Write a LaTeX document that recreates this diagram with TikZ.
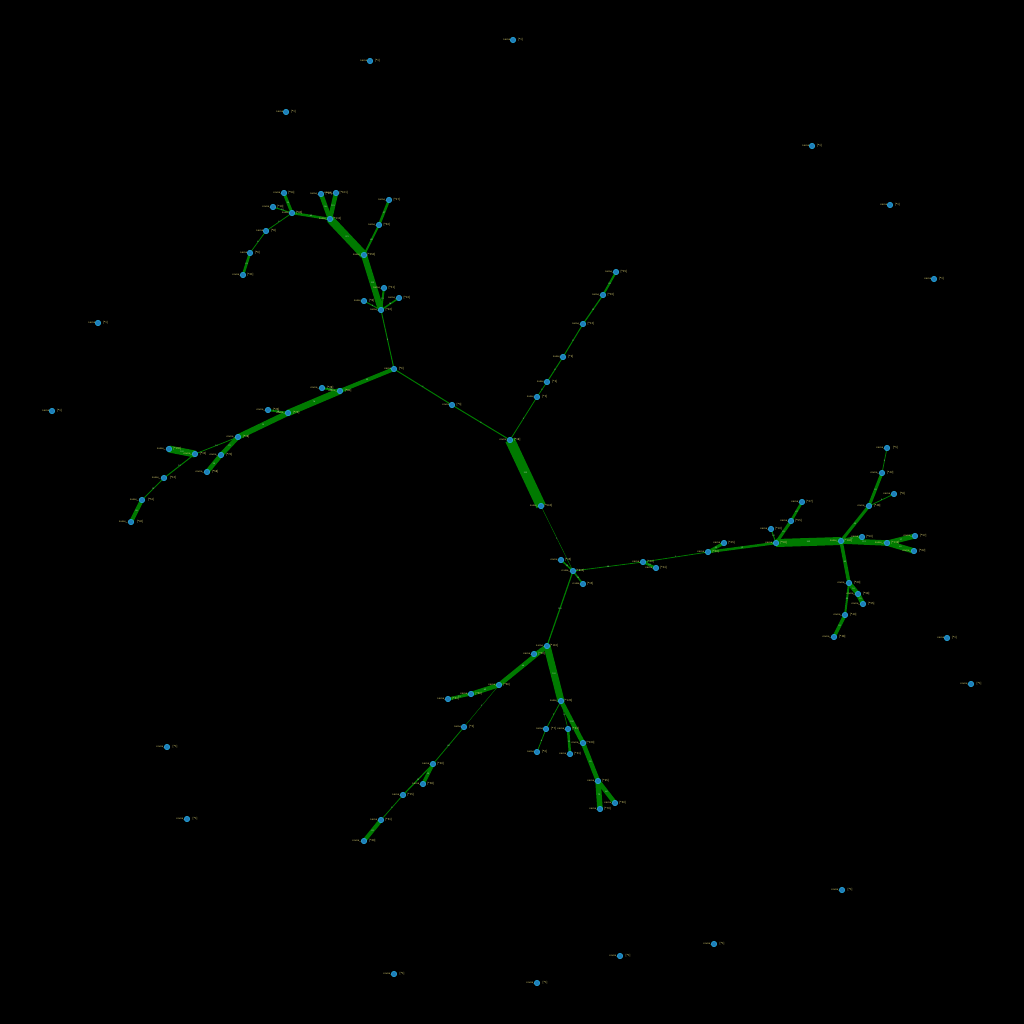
\documentclass[tikz,border=0pt]{standalone}
\usetikzlibrary{backgrounds}
\definecolor{edgegreen}{RGB}{0,122,0}
\definecolor{nodeblue}{RGB}{30,125,185}
\definecolor{noderim}{RGB}{40,175,225}
\definecolor{lbltext}{RGB}{210,200,110}
\definecolor{elbltext}{RGB}{175,210,170}
\pgfdeclarelayer{back}
\pgfdeclarelayer{edges}
\pgfsetlayers{back,edges,main}
\tikzset{
  nd/.style={circle, fill=nodeblue, draw=noderim, line width=0.5pt, inner sep=0pt, minimum size=5.5pt},
  lbl/.style={text=lbltext, inner sep=0pt, font=\sffamily\fontsize{2.9}{3.2}\selectfont},
  edge/.style={draw=edgegreen, line cap=butt},
  elbl/.style={text=elbltext, inner sep=0pt, font=\sffamily\fontsize{2.2}{2.5}\selectfont, midway}
}
\newcommand\NN[4]{\node[lbl] at (#2,#3) {name\_#1\;\;\; [*#4]}; \node[nd] (#1) at (#2,#3) {};}
\newcommand\EE[4]{\draw[edge, line width=#3pt] (#1.center) -- (#2.center) node[elbl] {#4};}
\begin{document}
\begin{tikzpicture}[x=1pt,y=-1pt]
\useasboundingbox (0,0) rectangle (1024,1024);
\begin{pgfonlayer}{back}
\fill[black] (0,0) rectangle (1024,1024);
\end{pgfonlayer}
% isolated nodes
\NN{i1}{513}{40}{1}
\NN{i2}{370}{61}{1}
\NN{i3}{286}{112}{1}
\NN{i4}{812}{146}{1}
\NN{i5}{890}{205}{1}
\NN{i6}{934}{279}{1}
\NN{i7}{98}{323}{1}
\NN{i8}{52}{411}{1}
\NN{i9}{947}{638}{1}
\NN{i10}{971}{684}{1}
\NN{i11}{167}{747}{1}
\NN{i12}{187}{819}{1}
\NN{i13}{842}{890}{1}
\NN{i14}{714}{944}{1}
\NN{i15}{620}{956}{1}
\NN{i16}{394}{974}{1}
\NN{i17}{537}{983}{1}
% centre
\NN{A}{510}{440}{18}
\NN{B}{541}{506}{540}
\NN{C}{561}{560}{15}
\NN{D}{573}{571}{806}
\NN{E}{583}{584}{15}
\NN{u1}{537}{397}{2}
\NN{u2}{547}{382}{4}
\NN{u3}{563}{357}{9}
\NN{u4}{583}{324}{12}
\NN{u5}{603}{295}{20}
\NN{u6}{616}{272}{25}
\NN{F}{452}{405}{3}
\NN{G}{394}{369}{9}
% upper G branch
\NN{g1}{381}{310}{40}
\NN{g2}{384}{288}{31}
\NN{g3}{399}{298}{16}
\NN{g4}{364}{301}{8}
\NN{H}{364}{255}{350}
\NN{h1}{379}{225}{60}
\NN{h2}{389}{200}{47}
\NN{K}{330}{219}{111}
\NN{k1}{321}{194}{96}
\NN{k2}{336}{193}{101}
\NN{L}{292}{213}{60}
\NN{l1}{284}{193}{54}
\NN{l2}{273}{207}{10}
\NN{l3}{266}{231}{8}
\NN{l4}{250}{253}{6}
\NN{l5}{243}{275}{41}
% left G branch
\NN{m1}{340}{391}{80}
\NN{m2}{322}{388}{28}
\NN{m3}{288}{413}{76}
\NN{m4}{268}{410}{26}
\NN{m5}{238}{437}{18}
\NN{m6}{195}{454}{12}
\NN{m7}{169}{449}{130}
\NN{m8}{221}{455}{70}
\NN{m9}{207}{472}{58}
\NN{m10}{164}{478}{12}
\NN{m11}{142}{500}{51}
\NN{m12}{131}{522}{46}
% right branch
\NN{r1}{643}{562}{20}
\NN{r2}{656}{568}{34}
\NN{r3}{708}{552}{30}
\NN{r4}{724}{543}{45}
\NN{r5}{776}{543}{58}
\NN{r6}{771}{529}{10}
\NN{r7}{791}{521}{55}
\NN{r8}{802}{502}{47}
\NN{R}{841}{541}{140}
\NN{r9}{862}{537}{50}
\NN{r10}{887}{543}{119}
\NN{r11}{915}{536}{57}
\NN{r12}{914}{551}{62}
\NN{r13}{869}{506}{48}
\NN{r14}{894}{494}{8}
\NN{r15}{882}{473}{42}
\NN{r16}{887}{448}{5}
\NN{r17}{849}{583}{60}
\NN{r18}{858}{594}{58}
\NN{r19}{863}{604}{55}
\NN{r20}{845}{615}{40}
\NN{r21}{834}{637}{38}
% lower branch
\NN{S}{547}{646}{110}
\NN{s1}{534}{654}{30}
\NN{s2}{499}{685}{66}
\NN{s3}{471}{694}{60}
\NN{s4}{448}{699}{51}
\NN{s5}{464}{727}{3}
\NN{s6}{433}{764}{40}
\NN{s7}{423}{784}{38}
\NN{s8}{403}{795}{15}
\NN{s9}{381}{820}{51}
\NN{s10}{364}{841}{49}
\NN{T}{561}{701}{120}
\NN{t1}{546}{729}{7}
\NN{t2}{537}{752}{6}
\NN{t3}{568}{729}{33}
\NN{t4}{570}{754}{31}
\NN{t5}{583}{743}{100}
\NN{t6}{598}{781}{95}
\NN{t7}{615}{803}{60}
\NN{t8}{600}{809}{70}
\begin{pgfonlayer}{edges}
\EE{A}{B}{10}{535}
\EE{B}{D}{0.4}{1}
\EE{C}{D}{1.5}{15}
\EE{D}{E}{1.5}{15}
\EE{A}{u1}{0.8}{2}
\EE{u1}{u2}{0.8}{2}
\EE{u2}{u3}{1}{4}
\EE{u3}{u4}{1}{9}
\EE{u4}{u5}{1.2}{12}
\EE{u5}{u6}{2}{20}
\EE{A}{F}{1}{3}
\EE{F}{G}{1}{3}
\EE{G}{g1}{1}{8}
\EE{g1}{H}{6}{350}
\EE{g1}{g2}{2}{31}
\EE{g1}{g3}{1.5}{16}
\EE{g1}{g4}{1}{8}
\EE{H}{K}{8}{278}
\EE{H}{h1}{2}{60}
\EE{h1}{h2}{2.5}{47}
\EE{K}{k1}{4.5}{96}
\EE{K}{k2}{4.5}{101}
\EE{K}{L}{2.5}{60}
\EE{L}{l1}{3}{54}
\EE{L}{l2}{1}{10}
\EE{L}{l3}{0.8}{8}
\EE{l3}{l4}{0.8}{6}
\EE{l4}{l5}{2.5}{41}
\EE{G}{m1}{4}{80}
\EE{m1}{m2}{2}{28}
\EE{m1}{m3}{6.5}{76}
\EE{m3}{m4}{2}{26}
\EE{m3}{m5}{5.5}{18}
\EE{m5}{m6}{0.8}{12}
\EE{m6}{m7}{7}{130}
\EE{m5}{m8}{4.5}{70}
\EE{m8}{m9}{4.5}{58}
\EE{m6}{m10}{1}{12}
\EE{m10}{m11}{1}{10}
\EE{m11}{m12}{4}{46}
\EE{D}{r1}{0.8}{20}
\EE{r1}{r2}{2.5}{34}
\EE{r1}{r3}{0.8}{3}
\EE{r3}{r4}{3}{45}
\EE{r3}{r5}{2.5}{30}
\EE{r5}{r6}{1}{10}
\EE{r5}{r7}{3}{55}
\EE{r7}{r8}{2.5}{47}
\EE{r5}{R}{8}{540}
\EE{R}{r9}{4}{50}
\EE{R}{r10}{5.5}{119}
\EE{r10}{r11}{5}{57}
\EE{r10}{r12}{5.5}{62}
\EE{R}{r13}{3}{48}
\EE{r13}{r14}{0.8}{8}
\EE{r13}{r15}{3}{42}
\EE{r15}{r16}{0.8}{5}
\EE{R}{r17}{3.5}{60}
\EE{r17}{r18}{4.5}{58}
\EE{r18}{r19}{4.5}{55}
\EE{r17}{r20}{2}{40}
\EE{r20}{r21}{3.5}{38}
\EE{D}{S}{1.2}{110}
\EE{S}{s1}{2.5}{30}
\EE{S}{s2}{4.5}{66}
\EE{s2}{s3}{4.5}{60}
\EE{s3}{s4}{3}{51}
\EE{s2}{s5}{0.4}{3}
\EE{s5}{s6}{0.8}{40}
\EE{s6}{s7}{3.5}{38}
\EE{s6}{s8}{1.2}{15}
\EE{s8}{s9}{0.8}{5}
\EE{s9}{s10}{4}{49}
\EE{S}{T}{7}{120}
\EE{T}{t1}{0.8}{7}
\EE{t1}{t2}{0.8}{6}
\EE{T}{t3}{0.6}{33}
\EE{t3}{t4}{2.5}{31}
\EE{T}{t5}{4.5}{100}
\EE{t5}{t6}{4.5}{95}
\EE{t6}{t7}{4.5}{60}
\EE{t6}{t8}{5.5}{70}
\end{pgfonlayer}
\end{tikzpicture}
\end{document}
